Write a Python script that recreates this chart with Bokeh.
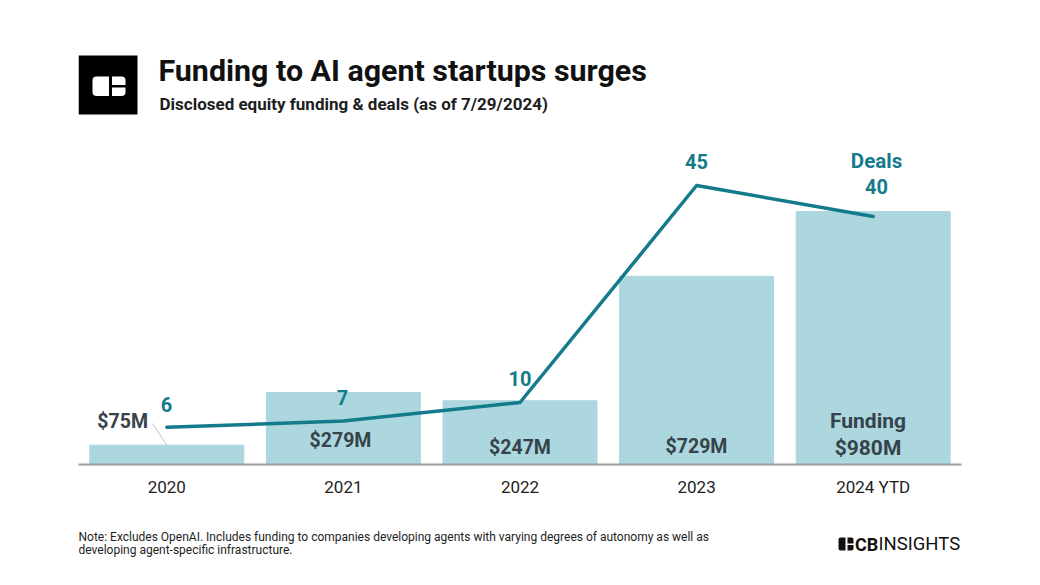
from bokeh.plotting import figure
from bokeh.models import Range1d, FixedTicker, Label, BoxAnnotation
from bokeh.layouts import column
from bokeh.embed import file_html
from bokeh.resources import INLINE

# ---- data ----
years = ["2020", "2021", "2022", "2023", "2024 YTD"]
funding_m = [75, 279, 247, 729, 980]
deals = [6, 7, 10, 45, 40]

title_text = "Funding to AI agent startups surges"
subtitle_text = "Disclosed equity funding & deals (as of 7/29/2024)"
note_lines = [
    "Note: Excludes OpenAI. Includes funding to companies developing agents with varying degrees of autonomy as well as",
    "developing agent-specific infrastructure.",
]

W = 1040
HEAD_H, MAIN_H, FOOT_H = 140, 370, 75

# ---- main chart frame (page pixels) ----
FL, FR, FT, FB = 78, 961, 140, 464
UNIT = (FR - FL) / 5.0
FUND_MAX = 1255.0
DEALS_MAX = 52.26
BASE_SHIFT = 0.38  # em correction for alphabetic baseline placement


def X(px):
    return -0.5 + (px - FL) / UNIT


def Y(py):
    return (FB - py) * FUND_MAX / (FB - FT)


BAR = "#acd7df"
TEAL = "#137b8b"
DARK = "#36434a"
FONT = "Roboto"


def clean(fig):
    fig.outline_line_color = None
    fig.grid.visible = False
    fig.background_fill_color = "white"
    fig.border_fill_color = "white"


def lab(fig, text, x, py, size, color, style="bold", align="center", ymap=None):
    fs = float(size.replace("px", ""))
    yy = py - BASE_SHIFT * fs
    y = ymap(yy) if ymap else yy
    fig.add_layout(Label(x=x, y=y, text=text, text_font=FONT, text_font_size=size,
                         text_color=color, text_font_style=style, text_align=align,
                         text_baseline="alphabetic"))


def box(fig, l, r, t, b, color, radius=0):
    fig.add_layout(BoxAnnotation(left=l, right=r, top=t, bottom=b,
                                 fill_color=color, fill_alpha=1, line_color=None,
                                 border_radius=radius, level="overlay"))


def strip(h, top):
    f = figure(width=W, height=h, output_backend="svg", toolbar_location=None,
               x_range=Range1d(FL, FR), y_range=Range1d(top + h, top),
               x_axis_location=None, y_axis_location=None,
               min_border_left=FL, min_border_right=W - FR,
               min_border_top=0, min_border_bottom=0)
    clean(f)
    return f


# ================= header =================
head = strip(HEAD_H, 0)
box(head, 78, 137, 55, 114, "black")
box(head, 92, 125, 76, 95.5, "white", 4)
box(head, 108.5, 111.5, 75, 97, "black")
box(head, 111, 126, 84.5, 87, "black")
lab(head, title_text, 158, 82, "30.4px", "#111111", align="left")
lab(head, subtitle_text, 159, 109.5, "17px", "#1e1e1e", align="left")

# ================= main chart =================
p = figure(width=W, height=MAIN_H, output_backend="svg", toolbar_location=None,
           x_range=Range1d(-0.5, 4.5), y_range=Range1d(0, FUND_MAX),
           y_axis_location=None, min_border_left=FL, min_border_right=W - FR,
           min_border_top=0, min_border_bottom=MAIN_H - (FB - FT))
p.extra_y_ranges = {"deals": Range1d(0, DEALS_MAX)}
clean(p)

xs = list(range(len(years)))
p.vbar(x=xs, top=funding_m, width=0.872, color=BAR)
p.line(x=xs, y=deals, y_range_name="deals", line_color=TEAL, line_width=3.5,
       line_join="round", line_cap="round")

# leader line for the small first bar label
p.segment(x0=[X(152)], y0=[Y(423)], x1=[xs[0]], y1=[funding_m[0]],
          line_color="#c4c4c4", line_width=1)

ax = p.xaxis[0]
ax.ticker = FixedTicker(ticks=xs)
ax.major_label_overrides = {i: y for i, y in enumerate(years)}
ax.major_tick_line_color = None
ax.minor_tick_line_color = None
ax.major_tick_out = 0
ax.major_label_standoff = 12
ax.axis_line_color = "#9e9e9e"
ax.axis_line_width = 2
ax.major_label_text_font = FONT
ax.major_label_text_font_size = "17px"
ax.major_label_text_color = "#1e1e1e"

# deal labels
deal_pos = [(166, 412), (342, 405), (519.5, 386), (696, 169)]
for i, (px, py) in enumerate(deal_pos):
    lab(p, str(deals[i]), X(px), py, "20px", TEAL, ymap=Y)
lab(p, "Deals", X(876), 168, "20.5px", TEAL, ymap=Y)
lab(p, str(deals[4]), X(876), 193.5, "20px", TEAL, ymap=Y)

# funding labels
lab(p, f"${funding_m[0]}M", X(147.5), 428.5, "19.5px", DARK, align="right", ymap=Y)
fund_pos = [(340, 447), (519.5, 454), (696, 453.5)]
for i, (px, py) in enumerate(fund_pos, start=1):
    lab(p, f"${funding_m[i]}M", X(px), py, "19.5px", DARK, ymap=Y)
lab(p, "Funding", X(867.5), 428.5, "21px", DARK, ymap=Y)
lab(p, f"${funding_m[4]}M", X(867.5), 455.5, "21px", DARK, ymap=Y)

# ================= footer =================
foot = strip(FOOT_H, HEAD_H + MAIN_H)
lab(foot, note_lines[0], 78, 541, "12px", "#1e1e1e", style="normal", align="left")
lab(foot, note_lines[1], 78, 554.5, "12px", "#1e1e1e", style="normal", align="left")

box(foot, 838, 853, 537, 550, "#111111", 2)
box(foot, 845, 847, 536, 551, "white")
box(foot, 846, 854, 543, 544.5, "white")
lab(foot, "CB", 854.5, 550.5, "18px", "#111111", align="left")
lab(foot, "INSIGHTS", 878, 550.5, "18.5px", "#111111", style="normal", align="left")

layout = column(head, p, foot, spacing=0)
open("out.html", "w").write(file_html(layout, INLINE))
